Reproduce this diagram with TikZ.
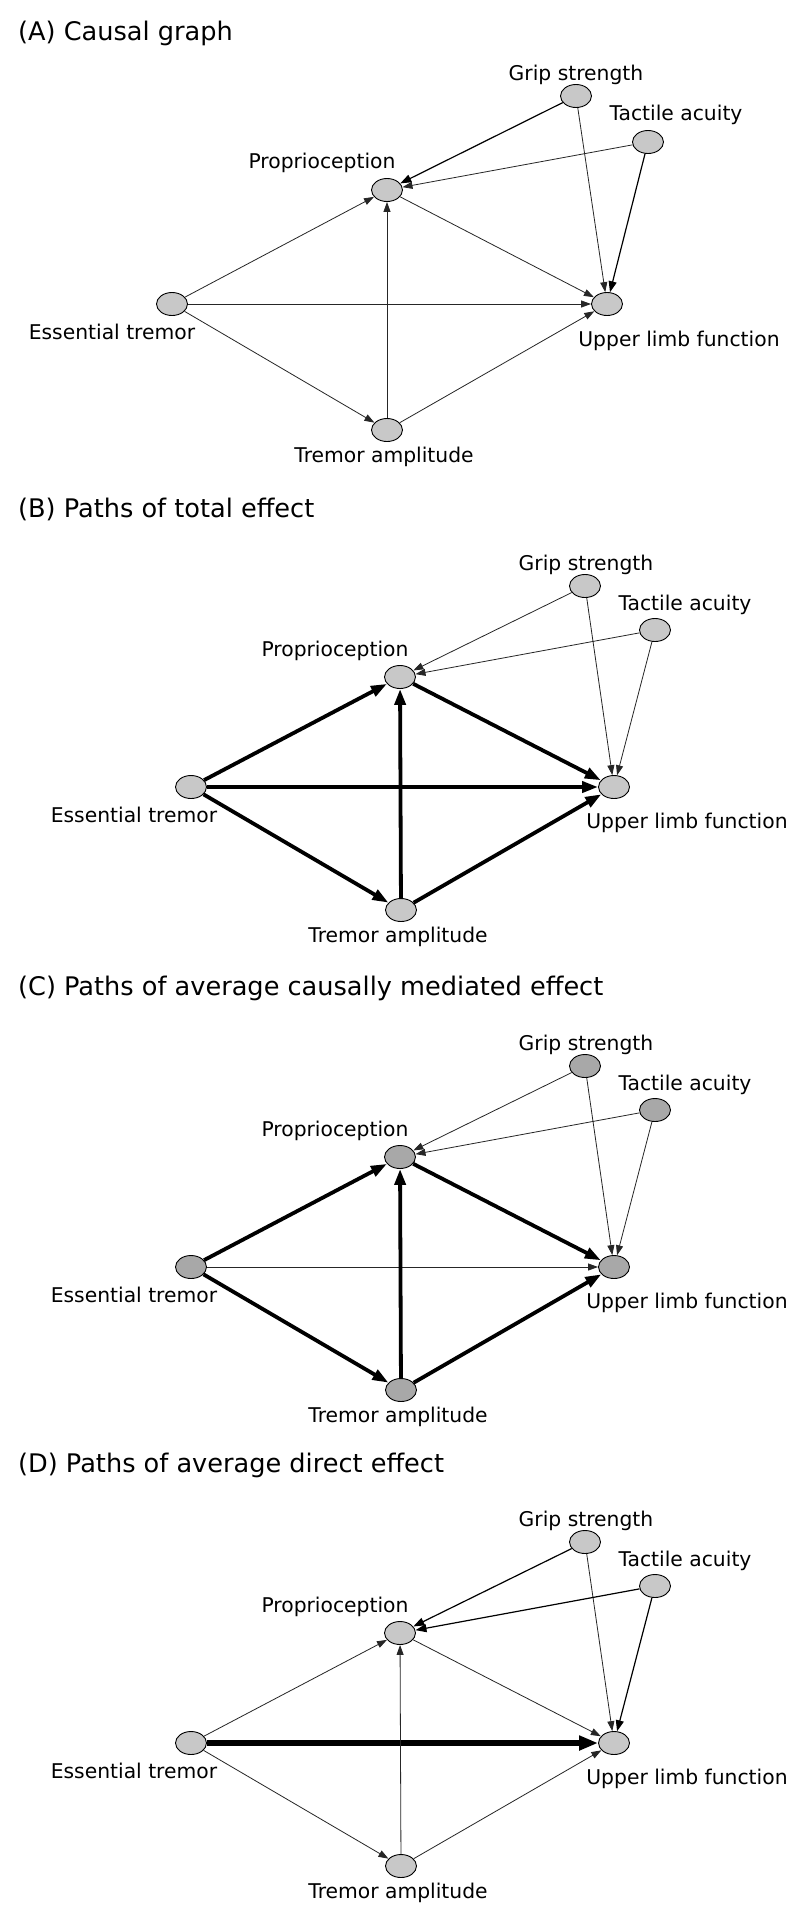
\documentclass[tikz,border=0pt]{standalone}
\usepackage{fontspec}
\setmainfont{DejaVu Sans}
\usetikzlibrary{shapes.geometric,arrows.meta}
\definecolor{nodegray}{HTML}{C8C8C8}
\definecolor{nodedark}{HTML}{A8A8A8}
\tikzset{
  var/.style={ellipse,draw=black,line width=0.9pt,fill=nodegray,minimum width=31pt,minimum height=23pt,inner sep=0pt},
  darkvar/.style={var,fill=nodedark},
  lab/.style={anchor=base,inner sep=0pt,font=\fontsize{20.3}{24}\selectfont},
  ttl/.style={anchor=base west,inner sep=0pt,font=\fontsize{25.6}{30}\selectfont},
  lite/.style={-{Triangle[length=10pt,width=7pt]},line width=0.8pt,draw=black!85},
  mid/.style={-{Triangle[length=11pt,width=8pt]},line width=1.2pt,draw=black},
  heavy/.style={-{Triangle[length=16pt,width=11pt]},line width=3.8pt,draw=black},
  xheavy/.style={-{Triangle[length=19pt,width=14pt]},line width=5.5pt,draw=black},
}
\begin{document}
\begin{tikzpicture}[x=1pt,y=-1pt]
\useasboundingbox (0,0) rectangle (800,1923);
\fill[white] (0,0) rectangle (800,1923);

% ---------------- Panel A ----------------
\node[ttl] (tA) at (18,40) {(A) Causal graph};
\node[var] (aG) at (576,96) {};
\node[var] (aT) at (648,142) {};
\node[var] (aP) at (387,190) {};
\node[var] (aE) at (172,304) {};
\node[var] (aU) at (607,304) {};
\node[var] (aM) at (387,430) {};
\node[lab] (aGl) at (576,80) {Grip strength};
\node[lab] (aTl) at (676,120) {Tactile acuity};
\node[lab] (aPl) at (322,168) {Proprioception};
\node[lab] (aEl) at (112,339) {Essential tremor};
\node[lab] (aUl) at (679,346) {Upper limb function};
\node[lab] (aMl) at (384,462) {Tremor amplitude};
\draw[lite] (aE) -- (aP);
\draw[lite] (aE) -- (aU);
\draw[lite] (aE) -- (aM);
\draw[lite] (aM) -- (aP);
\draw[lite] (aM) -- (aU);
\draw[lite] (aP) -- (aU);
\draw[mid] (aG) -- (aP);
\draw[lite] (aG) -- (aU);
\draw[lite] (aT) -- (aP);
\draw[mid] (aT) -- (aU);

% ---------------- Panel B ----------------
\node[ttl] (tB) at (18,517) {(B) Paths of total effect};
\node[var] (bG) at (585,586) {};
\node[var] (bT) at (655,630) {};
\node[var] (bP) at (400,677) {};
\node[var] (bE) at (191,787) {};
\node[var] (bU) at (614,787) {};
\node[var] (bM) at (401,910) {};
\node[lab] (bGl) at (586,570) {Grip strength};
\node[lab] (bTl) at (685,610) {Tactile acuity};
\node[lab] (bPl) at (335,656) {Proprioception};
\node[lab] (bEl) at (134,822) {Essential tremor};
\node[lab] (bUl) at (687,828) {Upper limb function};
\node[lab] (bMl) at (398,942) {Tremor amplitude};
\draw[heavy] (bE) -- (bP);
\draw[heavy] (bE) -- (bU);
\draw[heavy] (bE) -- (bM);
\draw[heavy] (bM) -- (bP);
\draw[heavy] (bM) -- (bU);
\draw[heavy] (bP) -- (bU);
\draw[lite] (bG) -- (bP);
\draw[lite] (bG) -- (bU);
\draw[lite] (bT) -- (bP);
\draw[lite] (bT) -- (bU);

% ---------------- Panel C ----------------
\node[ttl] (tC) at (18,995) {(C) Paths of average causally mediated effect};
\node[darkvar] (cG) at (585,1066) {};
\node[darkvar] (cT) at (655,1110) {};
\node[darkvar] (cP) at (400,1157) {};
\node[darkvar] (cE) at (191,1267) {};
\node[darkvar] (cU) at (614,1267) {};
\node[darkvar] (cM) at (401,1390) {};
\node[lab] (cGl) at (586,1050) {Grip strength};
\node[lab] (cTl) at (685,1090) {Tactile acuity};
\node[lab] (cPl) at (335,1136) {Proprioception};
\node[lab] (cEl) at (134,1302) {Essential tremor};
\node[lab] (cUl) at (687,1308) {Upper limb function};
\node[lab] (cMl) at (398,1422) {Tremor amplitude};
\draw[heavy] (cE) -- (cP);
\draw[lite] (cE) -- (cU);
\draw[heavy] (cE) -- (cM);
\draw[heavy] (cM) -- (cP);
\draw[heavy] (cM) -- (cU);
\draw[heavy] (cP) -- (cU);
\draw[lite] (cG) -- (cP);
\draw[lite] (cG) -- (cU);
\draw[lite] (cT) -- (cP);
\draw[lite] (cT) -- (cU);

% ---------------- Panel D ----------------
\node[ttl] (tD) at (18,1472) {(D) Paths of average direct effect};
\node[var] (dG) at (585,1542) {};
\node[var] (dT) at (655,1586) {};
\node[var] (dP) at (400,1633) {};
\node[var] (dE) at (191,1743) {};
\node[var] (dU) at (614,1743) {};
\node[var] (dM) at (401,1866) {};
\node[lab] (dGl) at (586,1526) {Grip strength};
\node[lab] (dTl) at (685,1566) {Tactile acuity};
\node[lab] (dPl) at (335,1612) {Proprioception};
\node[lab] (dEl) at (134,1778) {Essential tremor};
\node[lab] (dUl) at (687,1784) {Upper limb function};
\node[lab] (dMl) at (398,1898) {Tremor amplitude};
\draw[lite] (dE) -- (dP);
\draw[xheavy] (dE) -- (dU);
\draw[lite] (dE) -- (dM);
\draw[lite] (dM) -- (dP);
\draw[lite] (dM) -- (dU);
\draw[lite] (dP) -- (dU);
\draw[mid] (dG) -- (dP);
\draw[lite] (dG) -- (dU);
\draw[mid] (dT) -- (dP);
\draw[mid] (dT) -- (dU);
\end{tikzpicture}
\end{document}
